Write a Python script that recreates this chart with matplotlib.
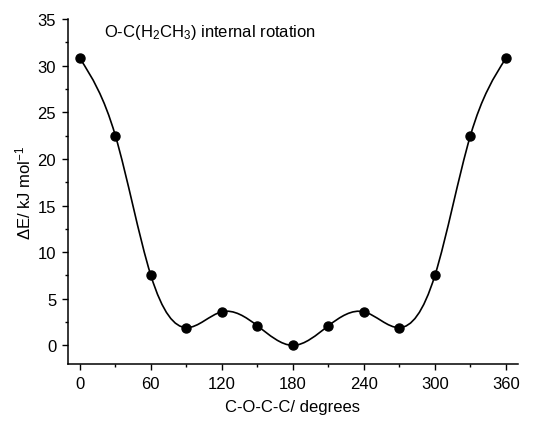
import numpy as np
import matplotlib
matplotlib.use("Agg")
import matplotlib.pyplot as plt
from matplotlib.path import Path
from matplotlib.patches import PathPatch
from matplotlib.ticker import MultipleLocator

plt.rcParams['font.family'] = ['Liberation Sans', 'DejaVu Sans']
plt.rcParams['mathtext.default'] = 'regular'

# dihedral angle (degrees) and relative energy (kJ/mol)
angle = [0, 30, 60, 90, 120, 150, 180, 210, 240, 270, 300, 330, 360]
energy = [30.8, 22.5, 7.5, 1.9, 3.6, 2.1, 0.0, 2.1, 3.6, 1.9, 7.5, 22.5, 30.8]


def spline_path(x, y):
    # natural cubic spline, each piece drawn as an exact cubic Bezier
    x = np.asarray(x, float)
    y = np.asarray(y, float)
    n = len(x)
    h = np.diff(x)
    A = np.zeros((n, n))
    b = np.zeros(n)
    A[0, 0] = A[-1, -1] = 1
    for i in range(1, n - 1):
        A[i, i - 1] = h[i - 1]
        A[i, i] = 2 * (h[i - 1] + h[i])
        A[i, i + 1] = h[i]
        b[i] = 6 * ((y[i + 1] - y[i]) / h[i] - (y[i] - y[i - 1]) / h[i - 1])
    M = np.linalg.solve(A, b)
    verts = [(x[0], y[0])]
    codes = [Path.MOVETO]
    for i in range(n - 1):
        s = (y[i + 1] - y[i]) / h[i]
        m0 = s - h[i] * (2 * M[i] + M[i + 1]) / 6
        m1 = s + h[i] * (M[i] + 2 * M[i + 1]) / 6
        verts += [(x[i] + h[i] / 3, y[i] + m0 * h[i] / 3),
                  (x[i + 1] - h[i] / 3, y[i + 1] - m1 * h[i] / 3),
                  (x[i + 1], y[i + 1])]
        codes += [Path.CURVE4] * 3
    return Path(verts, codes)


fig = plt.figure(figsize=(5.45, 4.27), dpi=100)
ax = fig.add_axes([0.1248, 0.1452, 0.8252, 0.8078])

ax.add_patch(PathPatch(spline_path(angle, energy), facecolor='none',
                       edgecolor='black', lw=1.2, zorder=2))
ax.plot(angle, energy, 'o', color='black', markersize=6.5, zorder=3)

ax.set_xlim(-10, 370)
ax.set_ylim(-2, 35)
ax.xaxis.set_major_locator(MultipleLocator(60))
ax.xaxis.set_minor_locator(MultipleLocator(30))
ax.yaxis.set_major_locator(MultipleLocator(5))
ax.yaxis.set_minor_locator(MultipleLocator(2.5))

for side in ['top', 'right']:
    ax.spines[side].set_visible(False)
for side in ['left', 'bottom']:
    ax.spines[side].set_linewidth(1.1)
ax.tick_params(which='major', direction='out', length=4.5, width=1.0, labelsize=12, pad=4)
ax.tick_params(which='minor', direction='out', length=2.5, width=1.0)

ax.set_xlabel('C-O-C-C/ degrees', fontsize=12, labelpad=6)
ax.set_ylabel(r'$\Delta$E/ kJ mol$^{-1}$', fontsize=12, labelpad=3)
ax.text(0.08, 0.965, 'O-C(H$_2$CH$_3$) internal rotation', transform=ax.transAxes,
        fontsize=12, va='center', ha='left')

fig.savefig('out.png', dpi=100)
